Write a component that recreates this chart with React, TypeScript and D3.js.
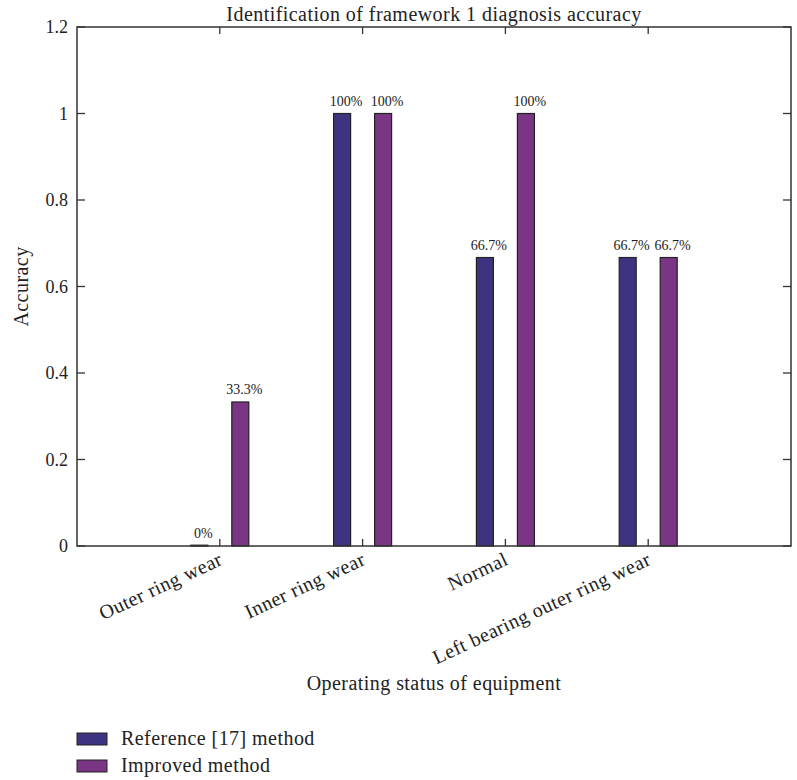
import React from "react";
import * as d3 from "d3";

const categories = ["Outer ring wear", "Inner ring wear", "Normal", "Left bearing outer ring wear"];
const seriesNames = ["Reference [17] method", "Improved method"];
const referenceValues = [0, 1, 0.667, 0.667];
const improvedValues = [0.333, 1, 1, 0.667];
const referenceLabels = ["0%", "100%", "66.7%", "66.7%"];
const improvedLabels = ["33.3%", "100%", "100%", "66.7%"];
const yTicks = [0, 0.2, 0.4, 0.6, 0.8, 1, 1.2];
const colors = ["#3c3481", "#7b3585"];

const W = 797, H = 780;
const M = { left: 77, right: 6, top: 27, bottom: 234 };
const FONT = "'Liberation Serif', 'Times New Roman', serif";
const LS = 0.45;

export default function App() {
  const x = d3.scaleLinear().domain([0, 5]).range([M.left, W - M.right]);
  const y = d3.scaleLinear().domain([0, 1.2]).range([H - M.bottom, M.top]);
  const barW = 17;
  const offset = 20.5;
  const series = [referenceValues, improvedValues];
  const labels = [referenceLabels, improvedLabels];
  const x0 = M.left, x1 = W - M.right, y0 = H - M.bottom, y1 = M.top;
  const axisColor = "#333";
  return (
    <svg width={W} height={H} style={{ position: "absolute", left: 0, top: 0, background: "#fff" }} fontFamily={FONT}>
      <rect x={0} y={0} width={W} height={H} fill="#fff" />
      {/* bars */}
      {series.map((vals, s) =>
        vals.map((v, i) => {
          const cx = x(i + 1) + (s === 0 ? -offset : offset);
          const top = y(v);
          const h = Math.max(y(0) - top, 0.8);
          return (
            <g key={`${s}-${i}`}>
              <rect x={cx - barW / 2} y={y(0) - h} width={barW} height={h} fill={colors[s]} stroke="#222" strokeWidth={1.2} />
              <text x={cx + 4} y={top - 8} textAnchor="middle" fontSize={14} fill="#222">
                {labels[s][i]}
              </text>
            </g>
          );
        })
      )}
      {/* frame */}
      <rect x={x0} y={y1} width={x1 - x0} height={y0 - y1} fill="none" stroke={axisColor} strokeWidth={1.5} />
      {/* y ticks */}
      {yTicks.map((t) => (
        <g key={t}>
          <line x1={x0} x2={x0 + 8} y1={y(t)} y2={y(t)} stroke={axisColor} strokeWidth={1.3} />
          <line x1={x1} x2={x1 - 8} y1={y(t)} y2={y(t)} stroke={axisColor} strokeWidth={1.3} />
          <text x={x0 - 9} y={y(t) + 6} textAnchor="end" fontSize={18} fill="#222">
            {String(t)}
          </text>
        </g>
      ))}
      {/* x ticks */}
      {categories.map((c, i) => (
        <g key={c}>
          <line x1={x(i + 1)} x2={x(i + 1)} y1={y0} y2={y0 - 7} stroke={axisColor} strokeWidth={1.3} />
          <line x1={x(i + 1)} x2={x(i + 1)} y1={y1} y2={y1 + 7} stroke={axisColor} strokeWidth={1.3} />
          <text transform={`translate(${x(i + 1) + 4},${y0 + 18}) rotate(-25)`} textAnchor="end" fontSize={20} letterSpacing={LS} fill="#222">
            {c}
          </text>
        </g>
      ))}
      {/* title */}
      <text x={(x0 + x1) / 2} y={21} textAnchor="middle" fontSize={20} letterSpacing={LS} fill="#222">
        Identification of framework 1 diagnosis accuracy
      </text>
      {/* axis labels */}
      <text x={(x0 + x1) / 2} y={690} textAnchor="middle" fontSize={20} letterSpacing={LS} fill="#222">
        Operating status of equipment
      </text>
      <text transform={`translate(28,${(y0 + y1) / 2}) rotate(-90)`} textAnchor="middle" fontSize={20} letterSpacing={LS} fill="#222">
        Accuracy
      </text>
      {/* legend */}
      {seriesNames.map((n, s) => (
        <g key={n}>
          <rect x={77} y={733 + s * 27} width={30} height={12} fill={colors[s]} stroke="#222" strokeWidth={1} />
          <text x={121} y={745 + s * 27} fontSize={20} letterSpacing={LS} fill="#222">
            {n}
          </text>
        </g>
      ))}
    </svg>
  );
}
